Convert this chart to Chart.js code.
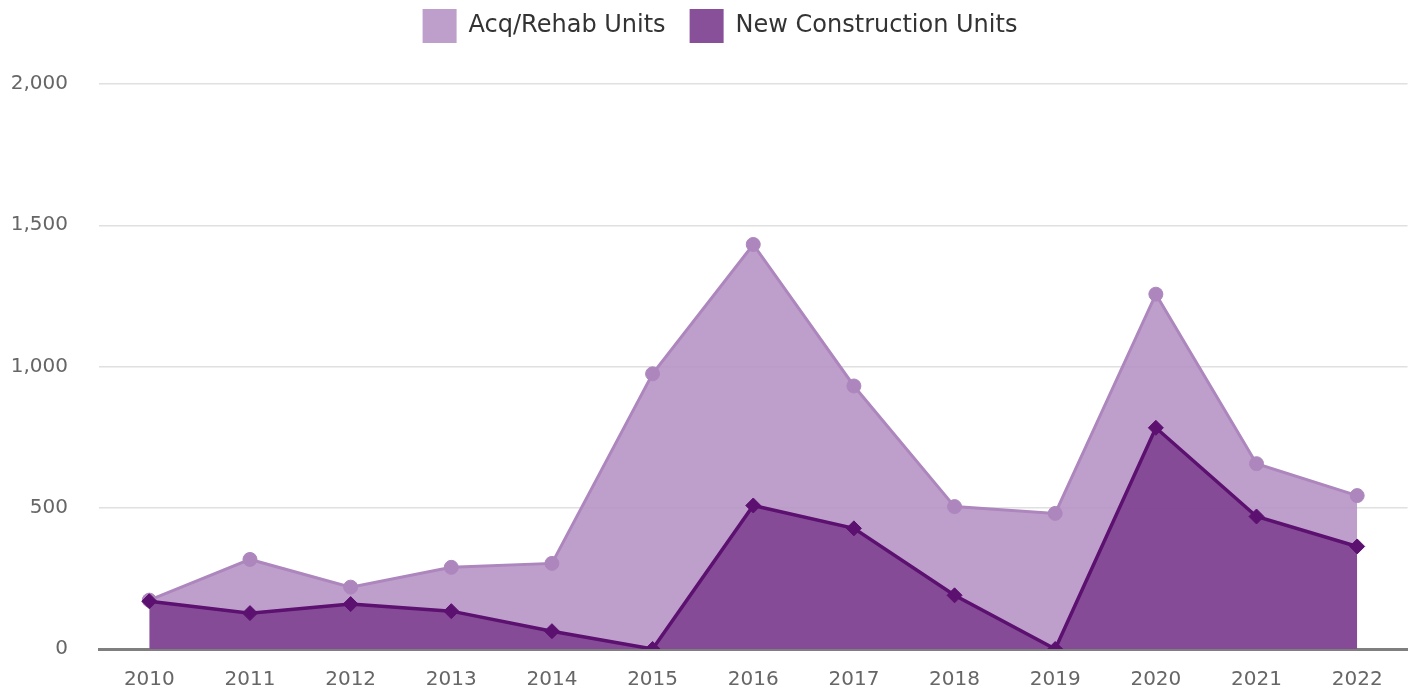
<!DOCTYPE html>
<html>
<head>
<meta charset="utf-8">
<script src="https://cdn.jsdelivr.net/npm/chart.js@4/dist/chart.umd.min.js"></script>
<style>
  html, body { margin: 0; padding: 0; background: #fff; }
</style>
</head>
<body>
<canvas id="c" width="1416" height="692" style="display:block;width:1416px;height:692px"></canvas>
<script>
const years = ['2010','2011','2012','2013','2014','2015','2016','2017','2018','2019','2020','2021','2022'];
const acqRehabUnits = [173, 317, 219, 289, 303, 974, 1432, 931, 504, 480, 1256, 656, 543];
const newConstructionUnits = [169, 127, 159, 134, 63, 0, 508, 427, 190, 0, 783, 469, 363];
const yTicks = [0, 500, 1000, 1500, 2000];

const FONT = "'DejaVu Sans', sans-serif";

new Chart(document.getElementById('c'), {
  type: 'line',
  data: {
    labels: years,
    datasets: [
      {
        label: 'Acq/Rehab Units',
        data: acqRehabUnits,
        order: 1,
        fill: 'origin',
        backgroundColor: 'rgba(183,149,197,0.9)',
        borderColor: '#AD86BD',
        borderWidth: 3,
        pointStyle: 'circle',
        pointRadius: 7,
        pointBorderWidth: 1,
        pointBackgroundColor: '#AD86BD',
        pointBorderColor: '#AD86BD',
        tension: 0
      },
      {
        label: 'New Construction Units',
        data: newConstructionUnits,
        order: 0,
        fill: 'origin',
        backgroundColor: 'rgba(130,71,148,0.95)',
        borderColor: '#5C1070',
        borderWidth: 3.5,
        pointStyle: 'rectRot',
        pointRadius: 7.5,
        pointBorderWidth: 1,
        pointBackgroundColor: '#5C1070',
        pointBorderColor: '#5C1070',
        tension: 0
      }
    ]
  },
  options: {
    responsive: false,
    animation: false,
    devicePixelRatio: 1,
    layout: { padding: { left: 0, right: -2, top: 0, bottom: 0 } },
    plugins: {
      legend: {
        display: true,
        position: 'top',
        labels: {
          boxWidth: 34,
          boxHeight: 34,
          padding: 24,
          color: '#333',
          font: { family: FONT, size: 24 },
          generateLabels(chart) {
            return chart.data.datasets.map((ds, i) => ({
              text: ds.label,
              fillStyle: ds.backgroundColor,
              strokeStyle: ds.backgroundColor,
              lineWidth: 0,
              hidden: false,
              datasetIndex: i,
              fontColor: '#333'
            }));
          }
        }
      },
      tooltip: { enabled: false }
    },
    scales: {
      x: {
        offset: true,
        grid: { display: false, drawTicks: false },
        border: { display: true, color: '#7f7f7f', width: 3 },
        ticks: { color: '#666', font: { family: FONT, size: 20 }, padding: 19 },
        afterFit(scale) { scale.height = 41; }
      },
      y: {
        min: 0,
        max: 2000,
        afterBuildTicks(scale) { scale.ticks = yTicks.map(v => ({ value: v })); },
        grid: { color: '#e0e0e0', lineWidth: 1.5, drawTicks: false },
        border: { display: false },
        ticks: {
          color: '#666',
          font: { family: FONT, size: 20 },
          padding: 31,
          callback: v => v.toLocaleString('en-US')
        },
        afterFit(scale) { scale.width = 99; }
      }
    }
  },
  plugins: [{
    id: 'legendTweak',
    beforeInit(chart) {
      const fit = chart.legend.fit;
      chart.legend.fit = function() {
        fit.bind(chart.legend)();
        this.height = 84;
      };
    },
    afterLayout(chart) {
      const lg = chart.legend;
      lg.top -= 15;
      lg.bottom -= 15;
      lg.left += 11;
      lg.right += 11;
    }
  }]
});
</script>
</body>
</html>
